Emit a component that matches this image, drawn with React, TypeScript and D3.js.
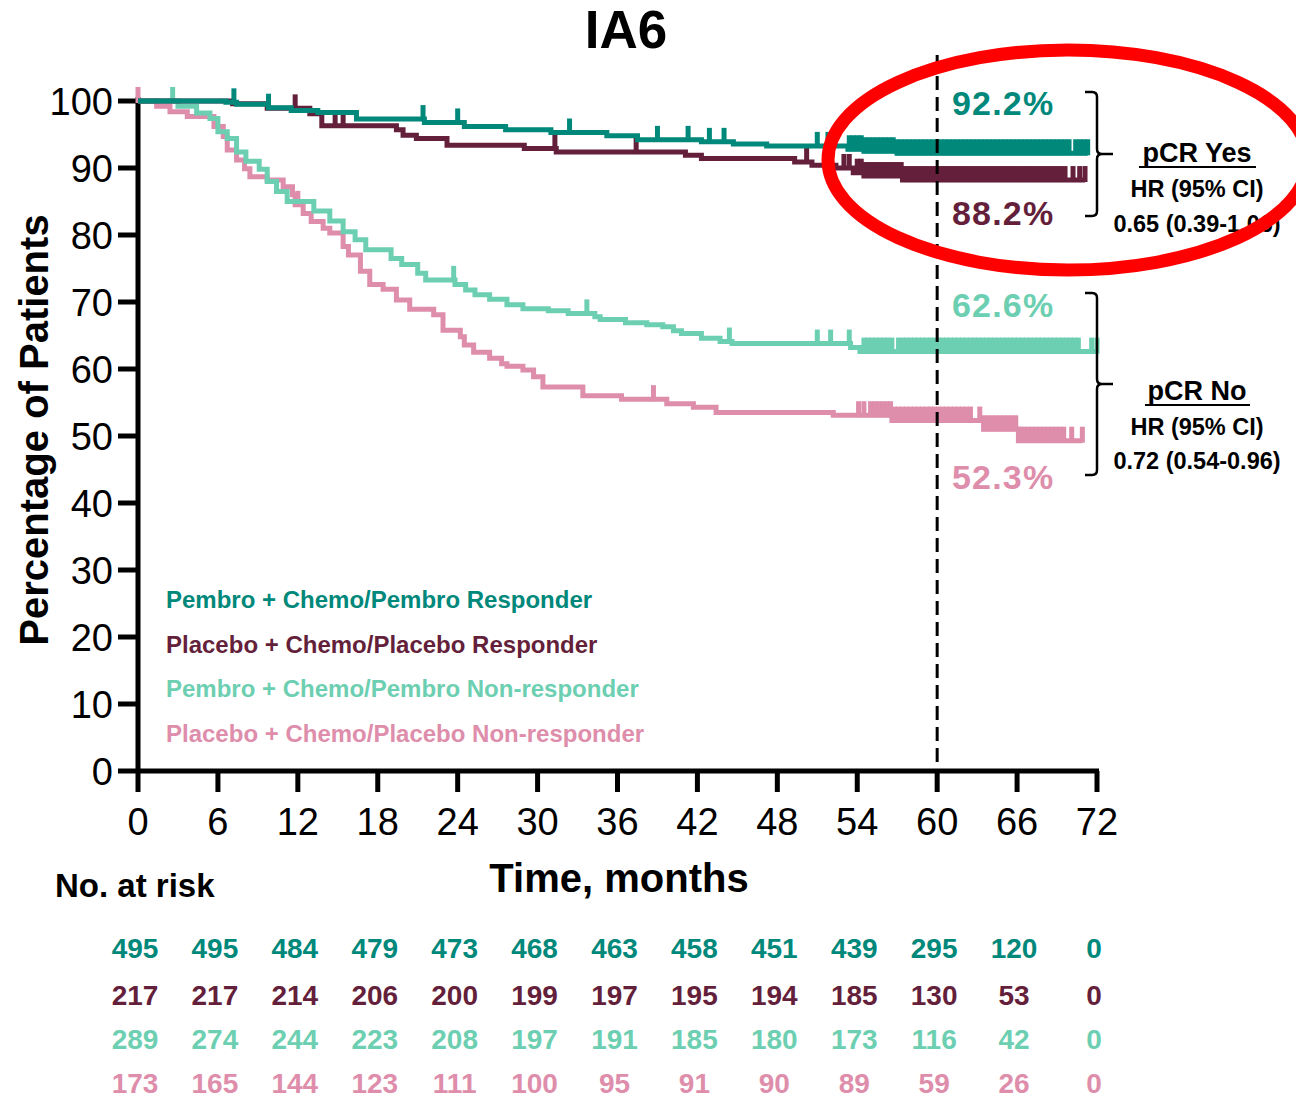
import React from "react";
import * as d3 from "d3";

// ---------- data ----------
const xTicks = [0, 6, 12, 18, 24, 30, 36, 42, 48, 54, 60, 66, 72];
const yTicks = [0, 10, 20, 30, 40, 50, 60, 70, 80, 90, 100];

const seriesNames = [
  "Pembro + Chemo/Pembro Responder",
  "Placebo + Chemo/Placebo Responder",
  "Pembro + Chemo/Pembro Non-responder",
  "Placebo + Chemo/Placebo Non-responder",
];
const seriesColors = ["#00887A", "#641F3B", "#6DCFB1", "#DE8DAB"];

// step data: [time (months), survival %]
const pembroRespSteps: [number, number][] = [
  [0, 100], [6.6, 99.8], [7.4, 99.5], [9.8, 99.0], [11.5, 98.6], [13.5, 98.3],
  [16.4, 97.3], [21.5, 96.8], [24.5, 96.2], [27.6, 95.7], [31.0, 95.3],
  [35.2, 94.8], [37.5, 94.2], [42.3, 93.9], [44.7, 93.6], [47.2, 93.3],
  [53.3, 92.8], [54.5, 92.5], [57.0, 92.2],
];
const pembroRespEnd = 71.3;
const pembroRespCensor = [
  7.2, 9.8, 21.4, 24.0, 32.4, 39.0, 41.3, 42.9, 44.0, 51.0, 51.8, 53.4, 53.7,
  54.0, 54.3, 54.6, 54.9, 55.2, 55.5, 55.8, 56.1, 56.4, 56.7, 57.0, 57.3, 57.6,
  57.9, 58.2, 58.5, 58.8, 59.1, 59.4, 59.7, 60.0, 60.3, 60.6, 60.9, 61.2, 61.5,
  61.8, 62.1, 62.4, 62.7, 63.0, 63.3, 63.6, 63.9, 64.2, 64.5, 64.8, 65.1, 65.4,
  65.7, 66.0, 66.3, 66.6, 66.9, 67.2, 67.5, 67.8, 68.1, 68.4, 68.7, 69.0, 69.3,
  69.6, 69.9, 70.4, 70.7, 71.0, 71.3,
];

const placeboRespSteps: [number, number][] = [
  [0, 100], [7.1, 99.6], [9.7, 98.9], [12.9, 98.1], [13.8, 96.3], [19.4, 95.7],
  [19.9, 94.9], [20.9, 94.4], [23.2, 93.4], [29.0, 92.9], [31.4, 92.4],
  [41.1, 91.9], [42.3, 91.4], [49.3, 90.9], [50.6, 90.4], [52.4, 90.0],
  [53.7, 89.3], [54.5, 88.8], [57.4, 88.2],
];
const placeboRespEnd = 71.1;
const placeboRespCensor = [
  11.8, 14.8, 15.4, 31.3, 37.4, 50.2, 53.0, 53.4, 54.0, 54.3, 54.6, 54.9, 55.2,
  55.5, 55.8, 56.1, 56.4, 56.7, 57.0, 57.3, 57.6, 57.9, 58.2, 58.5, 58.8, 59.1,
  59.4, 59.7, 60.0, 60.3, 60.6, 60.9, 61.2, 61.5, 61.8, 62.1, 62.4, 62.7, 63.0,
  63.3, 63.6, 63.9, 64.2, 64.5, 64.8, 65.1, 65.4, 65.7, 66.0, 66.3, 66.6, 66.9,
  67.2, 67.5, 67.8, 68.1, 68.4, 68.7, 69.0, 69.3, 69.6, 70.2, 70.7, 71.1,
];

const pembroNonSteps: [number, number][] = [
  [0, 100], [3.0, 99.2], [4.4, 98.2], [5.4, 97.4], [6.0, 95.4], [6.7, 94.4],
  [7.4, 92.4], [8.1, 91.0], [9.1, 89.8], [9.7, 88.0], [10.4, 86.5], [11.2, 85.0],
  [13.2, 83.6], [14.4, 82.1], [15.4, 80.5], [16.3, 79.3], [17.1, 77.8],
  [19.0, 76.5], [19.8, 75.6], [21.0, 74.3], [21.6, 73.3], [23.8, 72.6],
  [24.6, 71.8], [25.3, 71.1], [26.4, 70.4], [27.7, 69.6], [28.9, 69.0],
  [30.8, 68.7], [32.3, 68.3], [34.3, 67.8], [34.7, 67.4], [36.6, 66.9],
  [38.2, 66.6], [39.4, 66.3], [40.2, 65.7], [40.8, 65.3], [42.3, 64.6],
  [43.7, 64.1], [44.6, 63.8], [53.5, 63.2], [54.2, 62.6],
];
const pembroNonEnd = 72.0;
const pembroNonCensor = [
  2.6, 23.7, 33.7, 44.4, 51.0, 52.0, 53.4, 54.5, 54.8, 55.1, 55.4, 55.7, 56.0,
  56.3, 56.6, 57.1, 57.4, 57.7, 58.0, 58.3, 58.6, 58.9, 59.2, 59.5, 59.8, 60.1,
  60.4, 60.7, 61.0, 61.3, 61.6, 61.9, 62.2, 62.5, 62.8, 63.1, 63.4, 63.7, 64.0,
  64.3, 64.6, 64.9, 65.2, 65.5, 65.8, 66.1, 66.4, 66.7, 67.0, 67.3, 67.6, 67.9,
  68.2, 68.5, 68.8, 69.1, 69.4, 69.7, 70.0, 70.3, 70.6, 71.6, 72.0,
];

const placeboNonSteps: [number, number][] = [
  [0, 100], [1.4, 99.2], [2.4, 98.4], [3.7, 97.7], [5.7, 96.2], [6.4, 94.7],
  [6.7, 92.7], [7.4, 91.2], [8.0, 89.9], [8.4, 88.7], [9.7, 88.2], [10.9, 87.2],
  [11.6, 86.0], [11.8, 84.5], [12.4, 83.2], [13.0, 82.0], [13.9, 81.0],
  [14.4, 80.3], [15.4, 78.3], [15.8, 77.0], [16.7, 74.6], [17.4, 72.6],
  [18.4, 71.9], [19.4, 70.3], [20.4, 68.9], [22.2, 68.1], [22.9, 65.8],
  [24.2, 64.8], [24.5, 63.6], [25.2, 62.5], [26.4, 61.6], [27.3, 60.8],
  [27.7, 60.4], [28.9, 59.85], [29.7, 58.85], [30.4, 57.3], [33.4, 56.0],
  [36.3, 55.5], [39.7, 54.8], [41.7, 54.3], [43.4, 53.5], [52.2, 53.1],
  [56.6, 52.3], [63.5, 51.0], [66.1, 49.3],
];
const placeboNonEnd = 70.9;
const placeboNonCensor = [
  0, 12.0, 38.7, 54.1, 54.5, 55.0, 55.3, 55.6, 55.9, 56.2, 56.5, 56.8, 57.1,
  57.4, 57.7, 58.0, 58.3, 58.6, 58.9, 59.2, 59.5, 59.8, 60.1, 60.4, 60.7, 61.0,
  61.3, 61.6, 61.9, 62.2, 62.5, 63.2, 63.5, 63.8, 64.1, 64.4, 64.7, 65.0, 65.3,
  65.6, 65.9, 66.2, 66.5, 66.8, 67.1, 67.4, 67.7, 68.0, 68.3, 68.6, 68.9, 69.2,
  69.5, 70.1, 70.9,
];

const riskTimes = [0, 6, 12, 18, 24, 30, 36, 42, 48, 54, 60, 66, 72];
const riskPembroResp = [495, 495, 484, 479, 473, 468, 463, 458, 451, 439, 295, 120, 0];
const riskPlaceboResp = [217, 217, 214, 206, 200, 199, 197, 195, 194, 185, 130, 53, 0];
const riskPembroNon = [289, 274, 244, 223, 208, 197, 191, 185, 180, 173, 116, 42, 0];
const riskPlaceboNon = [173, 165, 144, 123, 111, 100, 95, 91, 90, 89, 59, 26, 0];

const landmarkMonth = 60;
const landmarkLabels = ["92.2%", "88.2%", "62.6%", "52.3%"];
const landmarkValues = [92.2, 88.2, 62.6, 52.3];

// ---------- layout ----------
const W = 1296;
const H = 1100;
const FONT = "'Liberation Sans', Arial, Helvetica, sans-serif";

const x = d3.scaleLinear().domain([0, 72]).range([138, 1097]);
const y = d3.scaleLinear().domain([0, 100]).range([771, 101]);

const series = [
  { steps: pembroRespSteps, end: pembroRespEnd, censor: pembroRespCensor, color: seriesColors[0] },
  { steps: placeboRespSteps, end: placeboRespEnd, censor: placeboRespCensor, color: seriesColors[1] },
  { steps: pembroNonSteps, end: pembroNonEnd, censor: pembroNonCensor, color: seriesColors[2] },
  { steps: placeboNonSteps, end: placeboNonEnd, censor: placeboNonCensor, color: seriesColors[3] },
];
const riskRows = [riskPembroResp, riskPlaceboResp, riskPembroNon, riskPlaceboNon];
const riskBaselines = [958, 1005, 1049, 1093];

const stepLine = d3
  .line<[number, number]>()
  .x((d) => x(d[0]))
  .y((d) => y(d[1]))
  .curve(d3.curveStepAfter);

function survAt(steps: [number, number][], t: number) {
  let v = steps[0][1];
  for (const s of steps) if (s[0] <= t) v = s[1];
  return v;
}

function bracePath(top: number, mid: number, bottom: number, xv: number) {
  const r = 5;
  return [
    `M${xv - 12},${top} H${xv - r} Q${xv},${top} ${xv},${top + r}`,
    `V${mid - r} Q${xv},${mid} ${xv + r},${mid} H${xv + 16}`,
    `M${xv + r},${mid} Q${xv},${mid} ${xv},${mid + r}`,
    `V${bottom - r} Q${xv},${bottom} ${xv - r},${bottom} H${xv - 12}`,
  ].join(" ");
}

export default function App() {
  const drawOrder = [3, 2, 1, 0];
  return (
    <svg
      width={W}
      height={H}
      viewBox={`0 0 ${W} ${H}`}
      style={{ position: "absolute", left: 0, top: 0, background: "#fff" }}
      fontFamily={FONT}
    >
      <rect x={0} y={0} width={W} height={H} fill="#fff" />
      {/* title */}
      <text x={626} y={48} textAnchor="middle" fontSize={53} fontWeight="bold">
        IA6
      </text>

      {/* y label */}
      <text
        transform={`translate(48,430) rotate(-90)`}
        textAnchor="middle"
        fontSize={40}
        fontWeight="bold"
      >
        Percentage of Patients
      </text>

      {/* axes */}
      <line x1={x(0)} x2={x(0)} y1={97} y2={773} stroke="#000" strokeWidth={5} />
      <line x1={x(0) - 2} x2={x(72) + 2} y1={y(0)} y2={y(0)} stroke="#000" strokeWidth={5} />
      {yTicks.map((t) => (
        <g key={"yt" + t}>
          <line x1={118} x2={x(0)} y1={y(t)} y2={y(t)} stroke="#000" strokeWidth={5} />
          <text x={113} y={y(t) + 14} textAnchor="end" fontSize={38}>
            {t}
          </text>
        </g>
      ))}
      {xTicks.map((t) => (
        <g key={"xt" + t}>
          <line x1={x(t)} x2={x(t)} y1={y(0)} y2={792} stroke="#000" strokeWidth={5} />
          <text x={x(t)} y={835} textAnchor="middle" fontSize={38}>
            {t}
          </text>
        </g>
      ))}

      <text x={619} y={892} textAnchor="middle" fontSize={40} fontWeight="bold">
        Time, months
      </text>

      {/* curves */}
      {drawOrder.map((i) => {
        const s = series[i];
        const pts: [number, number][] = [...s.steps, [s.end, s.steps[s.steps.length - 1][1]]];
        return (
          <g key={"s" + i}>
            <path d={stepLine(pts) || ""} fill="none" stroke={s.color} strokeWidth={5} strokeLinejoin="miter" />
            {s.censor.map((c, k) => {
              const v = survAt(s.steps, c);
              return (
                <line
                  key={k}
                  x1={x(c)}
                  x2={x(c)}
                  y1={y(v) + 2}
                  y2={y(v) - 14}
                  stroke={s.color}
                  strokeWidth={5}
                />
              );
            })}
          </g>
        );
      })}

      {/* landmark dashed line */}
      <line
        x1={x(landmarkMonth)}
        x2={x(landmarkMonth)}
        y1={55}
        y2={y(0)}
        stroke="#000"
        strokeWidth={3}
        strokeDasharray="14,7"
      />

      {/* landmark labels */}
      {[115, 225, 317, 489].map((by, i) => (
        <text
          key={"lm" + i}
          x={952}
          y={by}
          fontSize={34}
          fontWeight="bold"
          fill={seriesColors[i]}
          letterSpacing={1.2}
          data-value={landmarkValues[i]}
        >
          {landmarkLabels[i]}
        </text>
      ))}

      {/* braces */}
      <path d={bracePath(92, 154, 216, 1097)} fill="none" stroke="#000" strokeWidth={2.5} />
      <path d={bracePath(293, 384, 475, 1097)} fill="none" stroke="#000" strokeWidth={2.5} />

      <g fontWeight="bold" textAnchor="middle">
        <text x={1197} y={162} fontSize={27}>pCR Yes</text>
        <line x1={1139} x2={1256} y1={167} y2={167} stroke="#000" strokeWidth={2} />
        <text x={1197} y={197} fontSize={23.5}>HR (95% CI)</text>
        <text x={1197} y={232} fontSize={23.5}>0.65 (0.39-1.06)</text>

        <text x={1197} y={400} fontSize={27}>pCR No</text>
        <line x1={1145} x2={1250} y1={405} y2={405} stroke="#000" strokeWidth={2} />
        <text x={1197} y={435} fontSize={23.5}>HR (95% CI)</text>
        <text x={1197} y={469} fontSize={23.5}>0.72 (0.54-0.96)</text>
      </g>

      {/* legend */}
      {seriesNames.map((n, i) => (
        <text key={"lg" + i} x={166} y={608 + i * 44.6} fontSize={24} fontWeight="bold" fill={seriesColors[i]}>
          {n}
        </text>
      ))}

      {/* risk table */}
      <text x={55} y={897} fontSize={33} fontWeight="bold">
        No. at risk
      </text>
      {riskRows.map((row, r) => (
        <g key={"rr" + r}>
          {row.map((v, k) => (
            <text
              key={k}
              x={x(riskTimes[k]) - 3}
              y={riskBaselines[r]}
              textAnchor="middle"
              fontSize={28}
              fontWeight="bold"
              fill={seriesColors[r]}
            >
              {v}
            </text>
          ))}
        </g>
      ))}

      {/* red highlight ellipse */}
      <ellipse cx={1068} cy={160} rx={240} ry={110} fill="none" stroke="#FF0000" strokeWidth={13} />
    </svg>
  );
}
